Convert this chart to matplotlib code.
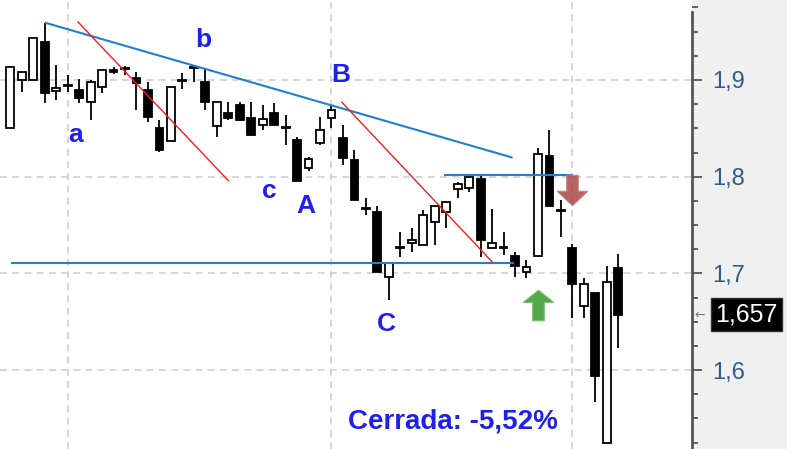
import matplotlib
matplotlib.use('Agg')
import matplotlib.pyplot as plt
import numpy as np
from matplotlib.path import Path
from matplotlib.ticker import FuncFormatter, MultipleLocator

# daily candles
opens = [1.850, 1.900, 1.900, 1.939, 1.889, 1.894, 1.890, 1.877, 1.893, 1.910,
         1.912, 1.902, 1.890, 1.850, 1.837, 1.900, 1.913, 1.898, 1.852, 1.866,
         1.874, 1.861, 1.853, 1.866, 1.851, 1.838, 1.809, 1.835, 1.861, 1.840,
         1.817, 1.768, 1.763, 1.696, 1.727, 1.731, 1.729, 1.753, 1.763, 1.787,
         1.788, 1.798, 1.726, 1.727, 1.718, 1.701, 1.718, 1.821, 1.766, 1.726,
         1.666, 1.680, 1.525, 1.706]
highs = [1.913, 1.908, 1.943, 1.959, 1.915, 1.905, 1.901, 1.900, 1.910, 1.913,
         1.914, 1.908, 1.898, 1.859, 1.893, 1.907, 1.914, 1.912, 1.877, 1.877,
         1.877, 1.877, 1.874, 1.876, 1.864, 1.841, 1.820, 1.862, 1.874, 1.853,
         1.828, 1.778, 1.770, 1.711, 1.743, 1.747, 1.766, 1.770, 1.774, 1.795,
         1.800, 1.801, 1.767, 1.743, 1.722, 1.714, 1.830, 1.848, 1.776, 1.730,
         1.695, 1.680, 1.708, 1.720]
lows = [1.850, 1.888, 1.900, 1.876, 1.879, 1.888, 1.876, 1.859, 1.887, 1.906,
        1.905, 1.869, 1.857, 1.826, 1.837, 1.891, 1.898, 1.869, 1.841, 1.859,
        1.858, 1.843, 1.848, 1.853, 1.833, 1.796, 1.806, 1.833, 1.850, 1.812,
        1.776, 1.760, 1.701, 1.672, 1.717, 1.722, 1.729, 1.729, 1.747, 1.778,
        1.784, 1.717, 1.726, 1.719, 1.696, 1.695, 1.717, 1.770, 1.738, 1.654,
        1.654, 1.567, 1.525, 1.623]
closes = [1.913, 1.908, 1.943, 1.887, 1.892, 1.895, 1.881, 1.898, 1.910, 1.908,
          1.911, 1.897, 1.862, 1.828, 1.893, 1.899, 1.912, 1.877, 1.877, 1.861,
          1.859, 1.843, 1.860, 1.853, 1.850, 1.796, 1.818, 1.848, 1.869, 1.819,
          1.776, 1.767, 1.701, 1.711, 1.726, 1.735, 1.760, 1.770, 1.774, 1.792,
          1.800, 1.735, 1.731, 1.726, 1.708, 1.707, 1.823, 1.770, 1.765, 1.689,
          1.689, 1.594, 1.691, 1.657]

# hand drawn lines: (x0, x1), (y0, y1)
blue_lines = [((3.1, 43.7), (1.959, 1.820)),
              ((37.9, 49.0), (1.802, 1.802)),
              ((0.15, 43.8), (1.711, 1.711))]
red_lines = [((5.9, 19.0), (1.960, 1.796)),
             ((28.9, 42.0), (1.877, 1.712))]

# wave labels
labels = ['a', 'b', 'c', 'A', 'B', 'C']
label_x = [5.7, 16.8, 22.6, 25.8, 28.8, 32.8]
label_y = [1.843, 1.941, 1.785, 1.770, 1.905, 1.648]

buy_signal = (46, 1.667)
sell_signal = (49, 1.786)
grid_days = [5, 28, 49]
closing_text = 'Cerrada: -5,52%'

fig = plt.figure(figsize=(7.87, 4.49), dpi=100)
fig.patch.set_facecolor('#f0f0f0')
ax = fig.add_axes([0, 0, 692 / 787, 1])
ax.set_facecolor('white')

x = np.arange(len(opens))
o = np.array(opens)
c = np.array(closes)
up = c >= o
bottoms = np.minimum(o, c)
heights = np.maximum(np.abs(c - o), 0.0004)

ax.vlines(x, lows, highs, color='black', lw=1.3, zorder=3)
ax.bar(x, heights, bottom=bottoms, width=0.68,
       color=np.where(up, 'white', 'black'), edgecolor='black', lw=1.3, zorder=4)

for xs, ys in blue_lines:
    ax.plot(xs, ys, color='#1f7fd8', lw=1.5, zorder=5)
for xs, ys in red_lines:
    ax.plot(xs, ys, color='#ff1a1a', lw=1.0, zorder=5)

for t, lx, ly in zip(labels, label_x, label_y):
    ax.text(lx, ly, t, color='#2020ee', fontsize=19, fontweight='bold',
            family='Liberation Sans', ha='center', va='center', zorder=6)
ax.text(38.6, 1.547, closing_text, color='#2020ee', fontsize=20, fontweight='bold',
        family='Liberation Sans', ha='center', va='center', zorder=6)

# signal arrows
up_arrow = Path([(0, 1), (1, 0.2), (0.38, 0.2), (0.38, -1), (-0.38, -1),
                 (-0.38, 0.2), (-1, 0.2), (0, 1)],
                [Path.MOVETO] + [Path.LINETO] * 6 + [Path.CLOSEPOLY])
down_arrow = Path([(0, -1), (1, -0.05), (0.38, -0.05), (0.38, 1), (-0.38, 1),
                   (-0.38, -0.05), (-1, -0.05), (0, -1)],
                  [Path.MOVETO] + [Path.LINETO] * 6 + [Path.CLOSEPOLY])
ax.plot(*buy_signal, marker=up_arrow, markersize=22, color='#52a84a',
        markeredgecolor='#7cc070', markeredgewidth=0.8, zorder=6)
ax.plot(*sell_signal, marker=down_arrow, markersize=22, color='#a84848',
        markeredgecolor='#c08080', markeredgewidth=0.8, alpha=0.85, zorder=6)

ax.set_xlim(-0.9, 59.43)
ax.set_ylim(1.5184, 1.9827)

# axes and grid
for s in ['top', 'left', 'bottom']:
    ax.spines[s].set_visible(False)
ax.spines['right'].set_color('#555555')
ax.spines['right'].set_linewidth(2)
ax.spines['right'].set_bounds(1.5184, 1.970)

ax.yaxis.tick_right()
ax.yaxis.set_major_locator(MultipleLocator(0.1))
ax.yaxis.set_minor_locator(MultipleLocator(0.025))
ax.yaxis.set_major_formatter(FuncFormatter(lambda v, p: ('%.1f' % v).replace('.', ',')))
ax.tick_params(axis='y', which='major', length=7.5, width=1.3, color='#555555',
               labelsize=17, labelcolor='#2f5c8c', pad=7)
ax.tick_params(axis='y', which='minor', length=4, width=1.3, color='#555555')
for lab in ax.get_yticklabels():
    lab.set_family('Liberation Sans')

ax.set_xticks(grid_days)
ax.tick_params(axis='x', length=0, labelbottom=False)
ax.grid(True, which='major', color='#cbcbcb', lw=1.1, linestyle=(0, (4.5, 3.5)), zorder=0)

# last price box
last = closes[-1]
ax.annotate(('%.3f' % last).replace('.', ','), xy=(1, last),
            xycoords=('axes fraction', 'data'), xytext=(17, 0),
            textcoords='offset points', ha='left', va='center',
            fontsize=18, family='Liberation Sans', color='white',
            bbox=dict(boxstyle='square,pad=0.18', fc='black', ec='#333333'),
            annotation_clip=False)
ax.annotate('←', xy=(1, last), xycoords=('axes fraction', 'data'),
            xytext=(2, 0), textcoords='offset points', ha='left', va='center',
            fontsize=9, color='#777777', annotation_clip=False)

plt.savefig('out.png', dpi=100, facecolor=fig.get_facecolor())
